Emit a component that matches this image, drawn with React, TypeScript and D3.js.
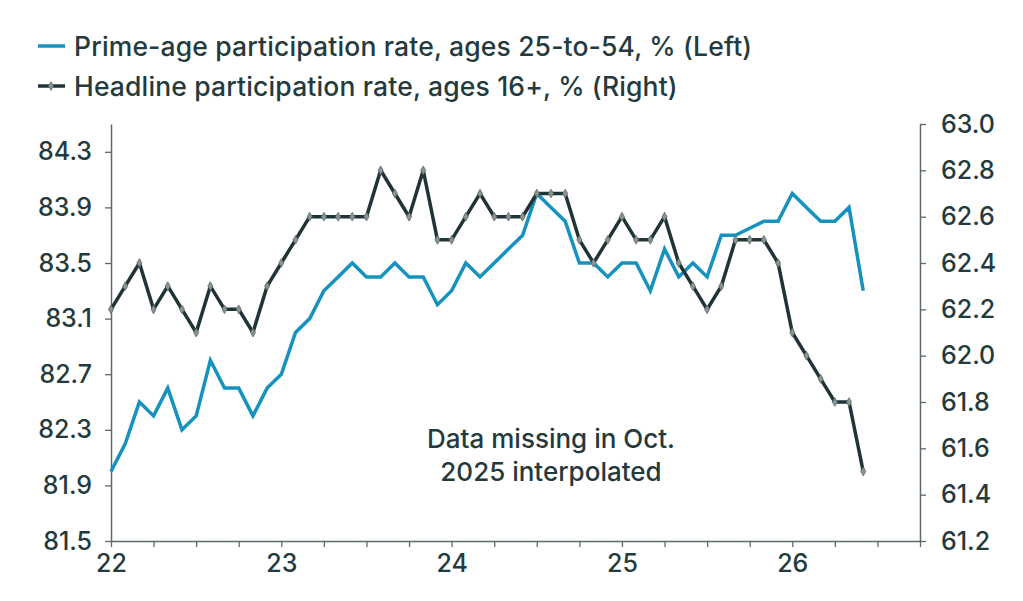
import React, { useEffect, useRef } from "react";
import * as d3 from "d3";

// Monthly readings, Jan 2022 through Jun 2026
const months = d3.range(54).map((i) => 2022 + i / 12);

// Prime-age participation rate, ages 25-to-54 (left axis)
const primeAge = [
  82.0, 82.2, 82.5, 82.4, 82.6, 82.3, 82.4, 82.8, 82.6, 82.6, 82.4, 82.6,
  82.7, 83.0, 83.1, 83.3, 83.4, 83.5, 83.4, 83.4, 83.5, 83.4, 83.4, 83.2,
  83.3, 83.5, 83.4, 83.5, 83.6, 83.7, 84.0, 83.9, 83.8, 83.5, 83.5, 83.4,
  83.5, 83.5, 83.3, 83.6, 83.4, 83.5, 83.4, 83.7, 83.7, 83.75, 83.8, 83.8,
  84.0, 83.9, 83.8, 83.8, 83.9, 83.3,
];

// Headline participation rate, ages 16+ (right axis)
const headline = [
  62.2, 62.3, 62.4, 62.2, 62.3, 62.2, 62.1, 62.3, 62.2, 62.2, 62.1, 62.3,
  62.4, 62.5, 62.6, 62.6, 62.6, 62.6, 62.6, 62.8, 62.7, 62.6, 62.8, 62.5,
  62.5, 62.6, 62.7, 62.6, 62.6, 62.6, 62.7, 62.7, 62.7, 62.5, 62.4, 62.5,
  62.6, 62.5, 62.5, 62.6, 62.4, 62.3, 62.2, 62.3, 62.5, 62.5, 62.5, 62.4,
  62.1, 62.0, 61.9, 61.8, 61.8, 61.5,
];

const leftTicks = [81.5, 81.9, 82.3, 82.7, 83.1, 83.5, 83.9, 84.3];
const rightTicks = [61.2, 61.4, 61.6, 61.8, 62.0, 62.2, 62.4, 62.6, 62.8, 63.0];
const yearTicks = [2022, 2023, 2024, 2025, 2026];

const legendItems = [
  "Prime-age participation rate, ages 25-to-54, % (Left)",
  "Headline participation rate, ages 16+, % (Right)",
];
const note = ["Data missing in Oct.", "2025 interpolated"];

const BLUE = "#1692be";
const DARK = "#1f3436";
const TEXT = "#243a3c";
const AXIS = "#5c6a6c";
const FONT = "Inter, 'Noto Sans', sans-serif";

const App = () => {
  const ref = useRef<SVGSVGElement | null>(null);

  useEffect(() => {
    const width = 1023;
    const height = 601;
    const svg = d3.select(ref.current);
    svg.selectAll("*").remove();
    svg.attr("width", width).attr("height", height);

    const x = d3.scaleLinear().domain([2022, 2026.75]).range([111, 920]);
    const yL = d3.scaleLinear().domain([81.5, 84.5]).range([541, 124]);
    const yR = d3.scaleLinear().domain([61.2, 63.0]).range([541, 124]);

    // quarter ticks along the bottom, labels only on whole years
    const xAxis = d3
      .axisBottom(x)
      .tickValues(d3.range(0, 20).map((i) => 2022 + i / 4))
      .tickSize(6)
      .tickSizeOuter(0)
      .tickPadding(7)
      .tickFormat((d) => (yearTicks.includes(+d) ? String(+d - 2000) : ""));

    const leftAxis = d3
      .axisLeft(yL)
      .tickValues(leftTicks)
      .tickSize(6)
      .tickSizeOuter(0)
      .tickPadding(13)
      .tickFormat(d3.format(".1f"));

    const rightAxis = d3
      .axisRight(yR)
      .tickValues(rightTicks)
      .tickSize(6)
      .tickSizeOuter(0)
      .tickPadding(15)
      .tickFormat(d3.format(".1f"));

    const styleAxis = (g) => {
      g.selectAll(".domain").attr("stroke", AXIS).attr("stroke-width", 1.5);
      g.selectAll(".tick line").attr("stroke", AXIS).attr("stroke-width", 1.3);
      g.selectAll(".tick text")
        .attr("fill", TEXT)
        .style("font-family", FONT)
        .style("font-weight", 500)
        .style("font-size", "25px");
    };

    svg.append("g").attr("transform", "translate(0,541)").call(xAxis).call(styleAxis);
    svg.append("g").attr("transform", "translate(111,0)").call(leftAxis).call(styleAxis);
    svg.append("g").attr("transform", "translate(920,0)").call(rightAxis).call(styleAxis);

    // prime-age line
    const lineL = d3
      .line<number>()
      .x((_, i) => x(months[i]))
      .y((d) => yL(d));
    svg
      .append("path")
      .datum(primeAge)
      .attr("d", lineL)
      .attr("fill", "none")
      .attr("stroke", BLUE)
      .attr("stroke-width", 3.5)
      .attr("stroke-linejoin", "miter");

    // headline line with small diamond markers
    const lineR = d3
      .line<number>()
      .x((_, i) => x(months[i]))
      .y((d) => yR(d));
    svg
      .append("path")
      .datum(headline)
      .attr("d", lineR)
      .attr("fill", "none")
      .attr("stroke", DARK)
      .attr("stroke-width", 3.5)
      .attr("stroke-linejoin", "miter");

    const diamond = d3.symbol().type(d3.symbolDiamond).size(22);
    svg
      .append("g")
      .selectAll("path")
      .data(headline)
      .enter()
      .append("path")
      .attr("d", diamond)
      .attr("transform", (d, i) => `translate(${x(months[i])},${yR(d)})`)
      .attr("fill", "#8a9494")
      .attr("stroke", "#5f6b6b")
      .attr("stroke-width", 0.8);

    // legend
    const legend = svg.append("g");
    legendItems.forEach((label, i) => {
      const cy = 46 + i * 40;
      legend
        .append("line")
        .attr("x1", 38)
        .attr("x2", 65)
        .attr("y1", cy)
        .attr("y2", cy)
        .attr("stroke", i === 0 ? BLUE : DARK)
        .attr("stroke-width", 3.5);
      if (i === 1) {
        legend
          .append("path")
          .attr("d", diamond)
          .attr("transform", `translate(51,${cy})`)
          .attr("fill", "#8a9494")
          .attr("stroke", "#5f6b6b")
          .attr("stroke-width", 0.8);
      }
      legend
        .append("text")
        .attr("x", 74)
        .attr("y", cy + 10)
        .attr("fill", TEXT)
        .style("font-family", FONT)
        .style("font-weight", 500)
        .style("font-size", "26.5px")
        .style("letter-spacing", "0.15px")
        .text(label);
    });

    // annotation
    const ann = svg
      .append("text")
      .attr("text-anchor", "middle")
      .attr("fill", TEXT)
      .style("font-family", FONT)
      .style("font-weight", 500)
      .style("font-size", "26px");
    note.forEach((t, i) => {
      ann
        .append("tspan")
        .attr("x", 551)
        .attr("y", 448 + i * 33)
        .text(t);
    });
  }, []);

  return (
    <div style={{ position: "absolute", left: 0, top: 0, background: "#fff" }}>
      <svg ref={ref} style={{ display: "block" }} />
    </div>
  );
};

export default App;
